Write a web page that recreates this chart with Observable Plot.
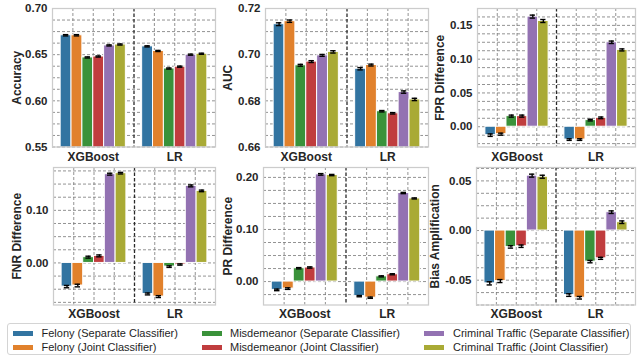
<!DOCTYPE html>
<html><head><meta charset="utf-8">
<script src="https://cdn.jsdelivr.net/npm/d3@7"></script>
<script src="https://cdn.jsdelivr.net/npm/@observablehq/plot@0.6"></script>
<style>
body{margin:0;background:#fff;font-family:"Liberation Sans",Arial,sans-serif;}
#root{position:relative;width:637px;height:357px;overflow:hidden;background:#fff}
.panel{position:absolute}
.panel svg{overflow:visible}
#legend{position:absolute;left:6.5px;top:322.5px;width:624px;height:32px;border:1px solid #d4d4d4;border-radius:3px;box-sizing:border-box;background:#fff}
.sw{position:absolute;width:20px;height:5px}
.lt{position:absolute;font-size:11px;color:#1e1e1e;white-space:nowrap;line-height:12px}
</style></head>
<body><div id="root"></div>
<script>
const models = ["XGBoost", "LR"];
const seriesNames = [
  "Felony (Separate Classifier)", "Felony (Joint Classifier)",
  "Misdemeanor (Separate Classifier)", "Misdemeanor (Joint Classifier)",
  "Criminal Traffic (Separate Classifier)", "Criminal Traffic (Joint Classifier)"
];
const seriesColors = ["#3274a1", "#e1812c", "#3a923a", "#c03d3e", "#9372b2", "#a9aa35"];
const metricLabels = ["Accuracy", "AUC", "FPR Difference", "FNR Difference", "PR Difference", "Bias Amplification"];

const accuracyXGBoost = [0.671, 0.671, 0.647, 0.648, 0.660, 0.661];
const accuracyLR      = [0.659, 0.654, 0.635, 0.637, 0.650, 0.651];
const accuracyErr     = [0.0007, 0.0007, 0.0006, 0.0006, 0.0006, 0.0006, 0.0006, 0.0006, 0.0006, 0.0006, 0.0006, 0.0006];

const aucXGBoost = [0.7132, 0.7145, 0.6954, 0.6970, 0.6997, 0.7012];
const aucLR      = [0.6939, 0.6955, 0.6755, 0.6746, 0.6838, 0.6806];
const aucErr     = [0.0006, 0.0005, 0.0004, 0.0004, 0.0004, 0.0005, 0.0005, 0.0004, 0.0003, 0.0003, 0.0005, 0.0005];

const fprXGBoost = [-0.0125, -0.011, 0.0157, 0.0157, 0.1630, 0.1565];
const fprLR      = [-0.019, -0.019, 0.0098, 0.0132, 0.1250, 0.1137];
const fprErr     = [0.0018, 0.0015, 0.0015, 0.0015, 0.0022, 0.0022, 0.0012, 0.0012, 0.0012, 0.0012, 0.0018, 0.0015];

const fnrXGBoost = [-0.045, -0.043, 0.011, 0.0134, 0.1688, 0.1707];
const fnrLR      = [-0.059, -0.064, -0.007, -0.003, 0.1465, 0.1370];
const fnrErr     = [0.0022, 0.0025, 0.0018, 0.0018, 0.0018, 0.0015, 0.0018, 0.0018, 0.0015, 0.0012, 0.0018, 0.0015];

const prXGBoost = [-0.016, -0.0135, 0.0256, 0.027, 0.2058, 0.2045];
const prLR      = [-0.028, -0.031, 0.010, 0.014, 0.1700, 0.1596];
const prErr     = [0.0015, 0.0015, 0.0012, 0.0012, 0.0015, 0.0012, 0.0012, 0.0012, 0.0010, 0.0010, 0.0012, 0.0010];

const biasXGBoost = [-0.0532, -0.0509, -0.0165, -0.0158, 0.0553, 0.0542];
const biasLR      = [-0.0650, -0.0677, -0.0313, -0.0280, 0.0185, 0.0084];
const biasErr     = [0.0016, 0.0015, 0.0012, 0.0012, 0.0015, 0.0015, 0.0013, 0.0013, 0.0012, 0.0010, 0.0013, 0.0013];

const metricValues = [
  [accuracyXGBoost, accuracyLR, accuracyErr],
  [aucXGBoost, aucLR, aucErr],
  [fprXGBoost, fprLR, fprErr],
  [fnrXGBoost, fnrLR, fnrErr],
  [prXGBoost, prLR, prErr],
  [biasXGBoost, biasLR, biasErr]
];

// axis settings per panel
const yDomains = [[0.55, 0.70], [0.66, 0.72], [-0.030, 0.175], [-0.080, 0.1815], [-0.045, 0.219], [-0.075, 0.0635]];
const yMajor = [0.05, 0.02, 0.05, 0.1, 0.1, 0.05];

// layout (frame edges in page px)
const layout = [
  {L: 52, R: 215, T: 7.5, B: 146, off: 40},
  {L: 265, R: 428, T: 7.5, B: 146, off: 42},
  {L: 477, R: 635, T: 7.5, B: 146, off: 42},
  {L: 53, R: 215, T: 166.5, B: 304, off: 41},
  {L: 263, R: 428, T: 166.5, B: 304, off: 40},
  {L: 476, R: 635, T: 166.5, B: 304, off: 46}
];

const root = document.getElementById("root");
const groupWidth = 0.8;
const barW = groupWidth / seriesNames.length;
const xLeft = d => d.mi + (1 - groupWidth) / 2 + d.si * barW;
const xMid = d => xLeft(d) + barW / 2;
const capHalf = barW * 0.25;

function ticksBy(lo, hi, step) {
  const a = Math.ceil(lo / step - 1e-9), b = Math.floor(hi / step + 1e-9);
  return d3.range(a, b + 1).map(i => +(i * step).toFixed(6));
}

metricLabels.forEach((label, p) => {
  const [xv, lv, ev] = metricValues[p];
  const rows = [];
  [xv, lv].forEach((vals, mi) => vals.forEach((v, si) => rows.push({
    model: models[mi], series: seriesNames[si], mi, si, value: v, err: ev[mi * seriesNames.length + si]
  })));
  const lay = layout[p];
  const dom = yDomains[p];
  const major = yMajor[p];
  const minor = ticksBy(dom[0], dom[1], major / 4);
  const majorTicks = ticksBy(dom[0], dom[1], major);
  const mL = 50, mR = 2, mT = 2, mB = 24;
  const W = lay.R - lay.L + mL + mR;
  const H = lay.B - lay.T + mT + mB;
  const gridStyle = {stroke: "#777777", strokeOpacity: 1, strokeDasharray: "3,2", strokeWidth: 0.8};
  const chart = Plot.plot({
    width: W, height: H,
    marginLeft: mL, marginRight: mR, marginTop: mT, marginBottom: mB,
    style: {fontFamily: "'Liberation Sans', Arial, sans-serif", color: "#262626", background: "transparent", overflow: "visible"},
    x: {domain: [0, 2]},
    y: {domain: dom},
    color: {domain: seriesNames, range: seriesColors},
    marks: [
      Plot.gridY({ticks: minor, ...gridStyle}),
      Plot.gridX({ticks: [0.25, 0.5, 0.75, 1.25, 1.5, 1.75], ...gridStyle}),
      Plot.ruleX([1], {stroke: "#2a2a2a", strokeDasharray: "3.5,2", strokeWidth: 1.3}),
      Plot.rect(rows, {x1: xLeft, x2: d => xLeft(d) + barW, y1: 0, y2: "value", fill: "series", stroke: "white", strokeWidth: 1, clip: true}),
      Plot.ruleX(rows, {x: xMid, y1: d => d.value - d.err, y2: d => d.value + d.err, stroke: "black", strokeWidth: 1.4}),
      Plot.ruleY(rows, {y: d => d.value + d.err, x1: d => xMid(d) - capHalf, x2: d => xMid(d) + capHalf, stroke: "black", strokeWidth: 1.4}),
      Plot.ruleY(rows, {y: d => d.value - d.err, x1: d => xMid(d) - capHalf, x2: d => xMid(d) + capHalf, stroke: "black", strokeWidth: 1.4}),
      Plot.frame({stroke: "#cccccc", strokeWidth: 1.25}),
      Plot.axisY({ticks: majorTicks, tickFormat: d => d.toFixed(2), tickSize: 0, tickPadding: 5, label: null, fontSize: 11.5, fontWeight: "bold"}),
      Plot.axisY({ticks: [], label, labelAnchor: "center", labelArrow: "none", labelOffset: lay.off, fontSize: 12, fontWeight: "bold"}),
      Plot.axisX({ticks: [0.5, 1.5], tickFormat: d => models[Math.floor(d)], tickSize: 0, tickPadding: p < 3 ? 5 : 4, label: null, fontSize: 12, fontWeight: "bold"})
    ]
  });
  const div = document.createElement("div");
  div.className = "panel";
  div.style.left = (lay.L - mL) + "px";
  div.style.top = (lay.T - mT) + "px";
  div.appendChild(chart);
  root.appendChild(div);
});

// legend (3 columns x 2 rows, column-major)
const legend = document.createElement("div");
legend.id = "legend";
root.appendChild(legend);
const colSwatchX = [5.5, 194, 416.5];
const colTextX = [34, 222.5, 445.5];
const rowY = [9.5, 23.5];
seriesNames.forEach((name, i) => {
  const c = Math.floor(i / 2), r = i % 2;
  const sw = document.createElement("div");
  sw.className = "sw";
  sw.style.left = colSwatchX[c] + "px";
  sw.style.top = (rowY[r] - 2.5) + "px";
  sw.style.background = seriesColors[i];
  legend.appendChild(sw);
  const t = document.createElement("div");
  t.className = "lt";
  t.style.left = colTextX[c] + "px";
  t.style.top = (rowY[r] - 6) + "px";
  t.textContent = name;
  legend.appendChild(t);
});
</script>
</body></html>
